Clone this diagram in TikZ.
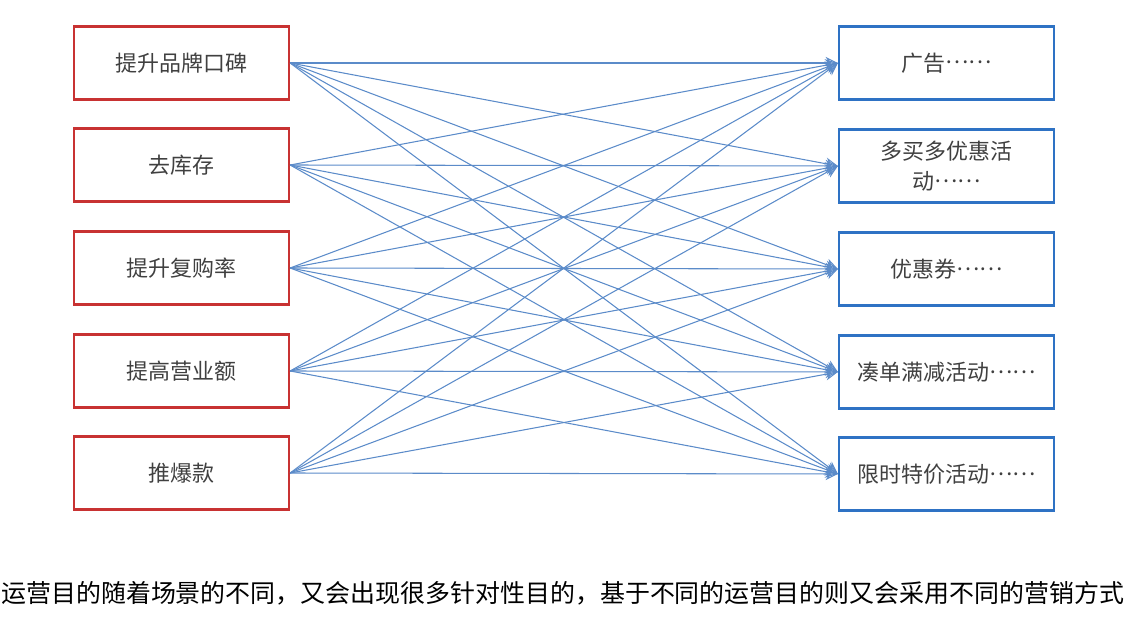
\documentclass[tikz,border=0pt]{standalone}
\usepackage{fontspec}
\setmainfont{Noto Sans CJK SC}
\usetikzlibrary{arrows.meta}
\definecolor{redb}{HTML}{C83232}
\definecolor{blueb}{HTML}{2E72C4}
\definecolor{linkc}{HTML}{5B8BC9}
\definecolor{txt}{HTML}{404040}
\newcommand{\elli}{\raisebox{0.33em}{……}}
\tikzset{
  lbox/.style={draw=redb,line width=1.3pt,minimum width=4.3cm,minimum height=1.46cm,inner sep=0pt,text=txt,font=\fontsize{12.5pt}{15pt}\selectfont,align=center},
  rbox/.style={draw=blueb,line width=1.3pt,minimum width=4.3cm,minimum height=1.46cm,inner sep=0pt,text=txt,font=\fontsize{12.5pt}{17pt}\selectfont,align=center},
  link/.style={draw=linkc,line width=0.6pt,-{Stealth[length=7pt,width=7pt,open]}}
}
\begin{document}
\begin{tikzpicture}[x=0.02cm,y=-0.02cm]
\useasboundingbox (0,0) rectangle (1145,617);
\node[lbox] (l1) at (181.5,63) {提升品牌口碑};
\node[lbox] (l2) at (181.5,165) {去库存};
\node[lbox] (l3) at (181.5,268) {提升复购率};
\node[lbox] (l4) at (181.5,371) {提高营业额};
\node[lbox] (l5) at (181.5,473) {推爆款};
\node[rbox] (r1) at (946.5,63) {广告\elli};
\node[rbox] (r2) at (946.5,166) {多买多优惠活\\动\elli};
\node[rbox] (r3) at (946.5,269) {优惠券\elli};
\node[rbox] (r4) at (946.5,372) {凑单满减活动\elli};
\node[rbox] (r5) at (946.5,474) {限时特价活动\elli};
\foreach \i in {1,...,5}{
  \foreach \j in {1,...,5}{
    \draw[link] (l\i.east) -- (r\j.west);
  }
}
\node[anchor=west,inner sep=0pt,font=\fontsize{14.2pt}{17pt}\selectfont] (cap) at (1,593) {运营目的随着场景的不同，又会出现很多针对性目的，基于不同的运营目的则又会采用不同的营销方式};
\end{tikzpicture}
\end{document}
